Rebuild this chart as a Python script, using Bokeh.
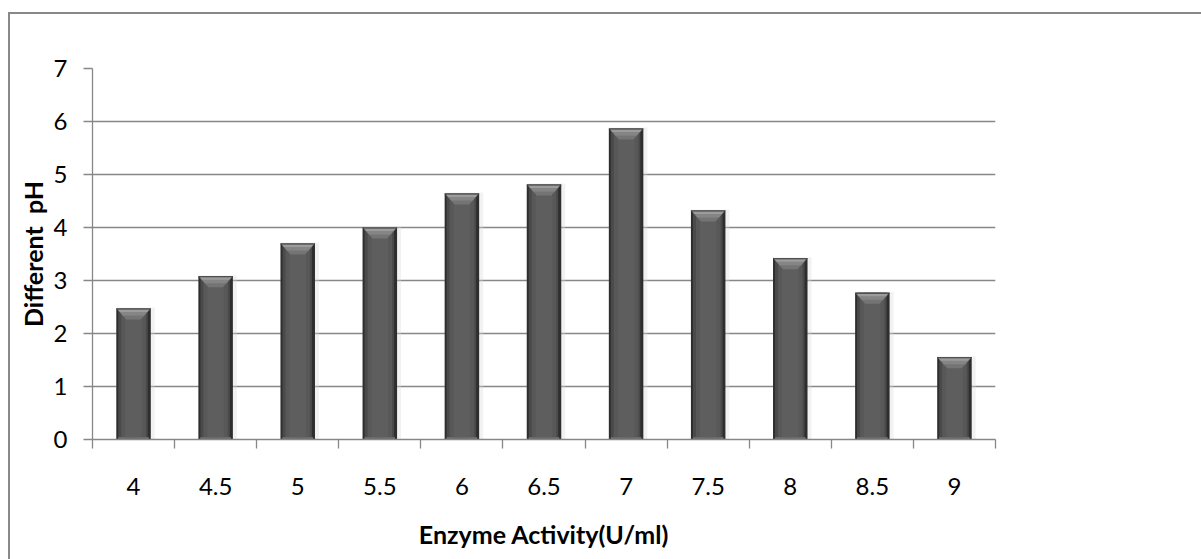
from bokeh.plotting import figure
from bokeh.models import FixedTicker, Range1d, InlineStyleSheet
from bokeh.embed import file_html
from bokeh.resources import INLINE

# pH values (category labels) and measured enzyme activity
ph_labels = ["4", "4.5", "5", "5.5", "6", "6.5", "7", "7.5", "8", "8.5", "9"]
activity = [2.47, 3.08, 3.70, 4.00, 4.64, 4.81, 5.87, 4.32, 3.42, 2.77, 1.55]
y_ticks = [0, 1, 2, 3, 4, 5, 6, 7]

W, H = 1201, 559
LEFT, RIGHT, TOP, BOTTOM = 92, 206, 68, 120
frame_w = W - LEFT - RIGHT
frame_h = H - TOP - BOTTOM
n = len(ph_labels)
px_x = frame_w / n          # pixels per category
px_y = frame_h / 7.0        # pixels per activity unit

FONT = "Lato"
GRID = "#878787"

# chart-area border: only its left and top edges fall inside the page
border_css = InlineStyleSheet(css="""
:host { position: relative; }
:host::after {
  content: "";
  position: absolute;
  left: 7.5px; top: 12px; right: 0; bottom: 0;
  border-left: 2px solid #888888;
  border-top: 2px solid #888888;
  pointer-events: none;
  z-index: 50;
}
""")

p = figure(width=W, height=H, output_backend="svg", toolbar_location=None,
           x_range=Range1d(-0.5, n - 0.5), y_range=Range1d(0, 7),
           min_border_left=LEFT, min_border_right=RIGHT,
           min_border_top=TOP, min_border_bottom=BOTTOM,
           stylesheets=[border_css])
p.outline_line_color = None
p.background_fill_color = "white"
p.border_fill_color = "white"

xs = list(range(n))
bw = 34.5 / px_x            # bar width in category units
hw = bw / 2

# soft drop shadow around each bar
p.vbar(x=[x + 2.0 / px_x for x in xs], top=[v + 1.0 / px_y for v in activity],
       bottom=0, width=bw + 4 / px_x, fill_color="#d9d9d9", fill_alpha=0.35,
       line_color=None)

# bar body with darker bevelled sides
p.vbar(x=xs, top=activity, bottom=0, width=bw, fill_color="#2e2e2e", line_color=None)
p.vbar(x=[x - 0.5 / px_x for x in xs], top=activity, bottom=0,
       width=bw - 5 / px_x, fill_color="#4a4a4a", line_color=None)
p.vbar(x=xs, top=activity, bottom=0, width=bw - 10 / px_x,
       fill_color="#585858", line_color=None)
p.vbar(x=xs, top=activity, bottom=0, width=bw - 18 / px_x,
       fill_color="#5e5e5e", line_color=None)
# light strip along the base
p.vbar(x=xs, top=[2.5 / px_y] * n, bottom=0, width=bw - 4 / px_x,
       fill_color="#6a6a6a", line_color=None)

# bevelled cap on top of each bar
bev_h = 11 / px_y
inset = 10 / px_x
cap_x, cap_y, mid_x, mid_y, hi_x, hi_y = [], [], [], [], [], []
for x, v in zip(xs, activity):
    cap_x.append([x - hw, x + hw, x + hw - inset, x - hw + inset])
    cap_y.append([v, v, v - bev_h, v - bev_h])
    t2, i2 = 7 / px_y, 6.5 / px_x
    mid_x.append([x - hw + 1 / px_x, x + hw - 1 / px_x, x + hw - i2, x - hw + i2])
    mid_y.append([v, v, v - t2, v - t2])
    t3, i3 = 3.5 / px_y, 3.5 / px_x
    hi_x.append([x - hw + 1 / px_x, x + hw - 1 / px_x, x + hw - i3, x - hw + i3])
    hi_y.append([v, v, v - t3, v - t3])
p.patches(cap_x, cap_y, fill_color="#747474", line_color=None)
p.patches(mid_x, mid_y, fill_color="#858585", line_color=None)
p.patches(hi_x, hi_y, fill_color="#9c9c9c", line_color=None)
# thin dark top edge
p.vbar(x=xs, top=activity, bottom=[v - 1.0 / px_y for v in activity], width=bw,
       fill_color="#3a3a3a", line_color=None)

# axes
xa = p.xaxis[0]
xa.ticker = FixedTicker(ticks=xs, minor_ticks=[x - 0.5 for x in xs] + [n - 0.5])
xa.major_label_overrides = {i: lab for i, lab in enumerate(ph_labels)}
xa.major_tick_out = 0
xa.major_tick_in = 0
xa.minor_tick_out = 9
xa.minor_tick_in = 0
xa.minor_tick_line_color = GRID
xa.minor_tick_line_width = 1.3
xa.major_label_standoff = 29
xa.axis_label = "Enzyme Activity(U/ml)"
xa.axis_label_standoff = 21

ya = p.yaxis[0]
ya.ticker = FixedTicker(ticks=y_ticks)
ya.minor_tick_line_color = None
ya.major_tick_out = 9
ya.major_tick_in = 0
ya.major_label_standoff = 16
ya.axis_label = "Different\u00a0 pH"
ya.axis_label_standoff = 3

for ax in (xa, ya):
    ax.axis_line_color = GRID
    ax.axis_line_width = 1.3
    ax.major_tick_line_color = GRID
    ax.major_tick_line_width = 1.3
    ax.major_label_text_font = FONT
    ax.major_label_text_font_size = "24px"
    ax.major_label_text_color = "black"
    ax.axis_label_text_font = FONT
    ax.axis_label_text_font_size = "25px"
    ax.axis_label_text_font_style = "bold"
    ax.axis_label_text_color = "black"

p.xgrid.grid_line_color = None
p.ygrid.grid_line_color = GRID
p.ygrid.grid_line_width = 1.3
p.ygrid.ticker = FixedTicker(ticks=y_ticks)

open("out.html", "w").write(file_html(p, INLINE))
